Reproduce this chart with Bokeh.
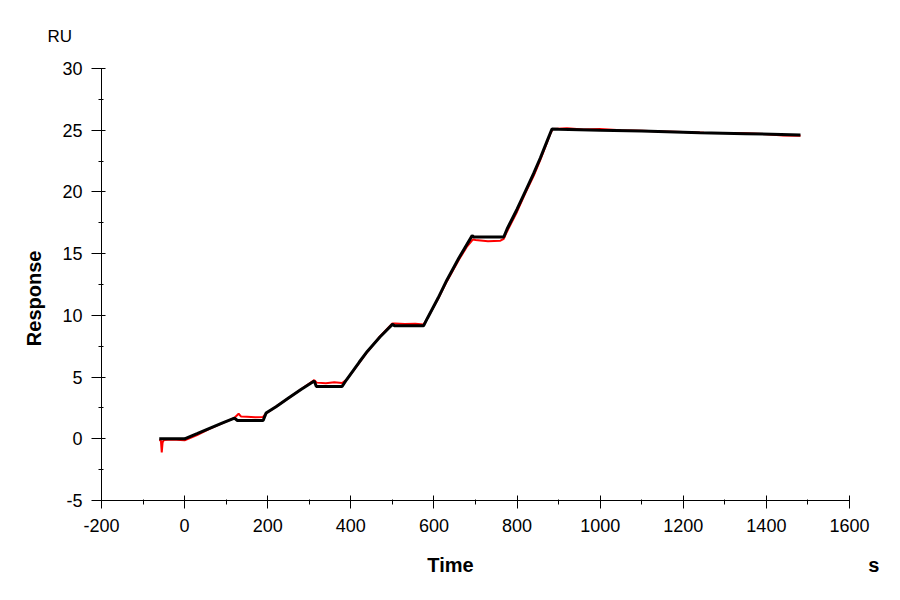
from bokeh.embed import file_html
from bokeh.models import CustomJSTickFormatter, Range1d, SingleIntervalTicker, Title
from bokeh.plotting import figure
from bokeh.resources import INLINE

# measured response (red) and fitted curve (black), time in s, response in RU
measured_time = [-61, -57, -55, -53, -50, -30, 0, 30, 60, 90, 120, 130, 136, 150, 170, 188,
                 196, 220, 250, 280, 312, 318, 340, 360, 379, 390, 420, 440, 470, 500, 506,
                 530, 555, 575, 584, 610, 631, 660, 680, 694, 700, 730, 760, 768, 776, 800,
                 820, 840, 856, 872, 880, 886, 920, 960, 1000, 1050, 1100, 1150, 1200, 1250,
                 1300, 1350, 1400, 1440, 1482]
measured_response = [-0.1, -0.15, -1.1, -0.3, -0.1, -0.05, -0.12, 0.3, 0.8, 1.25, 1.7, 2.03,
                     1.8, 1.78, 1.74, 1.76, 2.05, 2.6, 3.3, 4.0, 4.75, 4.55, 4.5, 4.58, 4.52,
                     4.8, 6.15, 7.05, 8.3, 9.35, 9.35, 9.3, 9.32, 9.25, 9.75, 11.35, 12.75,
                     14.5, 15.6, 16.15, 16.1, 16.0, 16.05, 16.2, 16.8, 18.4, 19.9, 21.3, 22.6,
                     24.0, 24.7, 25.1, 25.15, 25.05, 25.1, 25.0, 24.95, 24.9, 24.85, 24.8,
                     24.78, 24.75, 24.68, 24.58, 24.55]

fit_time = [-61, 0, 30, 60, 90, 120, 127, 189, 196, 220, 250, 280, 312, 317, 379, 390, 420,
            440, 470, 500, 506, 575, 584, 610, 631, 660, 692, 696, 768, 776, 800, 820, 840,
            856, 872, 884, 900, 1000, 1100, 1240, 1350, 1482]
fit_response = [0.0, 0.0, 0.42, 0.85, 1.27, 1.68, 1.48, 1.48, 2.08, 2.6, 3.3, 4.0, 4.68, 4.24,
                4.24, 4.8, 6.2, 7.1, 8.25, 9.27, 9.15, 9.15, 9.75, 11.4, 12.85, 14.65, 16.46,
                16.35, 16.35, 17.0, 18.6, 20.05, 21.5, 22.75, 24.1, 25.1, 25.08, 25.0, 24.93,
                24.8, 24.72, 24.62]

FONT = "Liberation Sans"
NBSP = "\u00a0"

p = figure(
    width=884,
    height=584,
    x_range=Range1d(-200, 1600),
    y_range=Range1d(-5, 30),
    output_backend="svg",
    toolbar_location=None,
    min_border_left=101,
    min_border_right=35,
    min_border_top=68,
    min_border_bottom=84,
)
p.outline_line_color = None
p.grid.visible = False

p.xaxis.ticker = SingleIntervalTicker(interval=200, num_minor_ticks=2)
p.yaxis.ticker = SingleIntervalTicker(interval=5, num_minor_ticks=2)

# plain hyphen for negative numbers, like the original
plain_minus = CustomJSTickFormatter(code="return tick.toString();")

for ax in (p.xaxis, p.yaxis):
    ax.formatter = plain_minus
    ax.axis_line_color = "black"
    ax.major_tick_line_color = "black"
    ax.minor_tick_line_color = "black"
    ax.major_label_text_font = FONT
    ax.major_label_text_font_size = "18px"
    ax.major_label_text_color = "black"
    ax.axis_label_text_font = FONT
    ax.axis_label_text_font_size = "20px"
    ax.axis_label_text_font_style = "bold"
    ax.axis_label_text_color = "black"

p.yaxis.major_tick_out = 10
p.yaxis.major_tick_in = 4
p.yaxis.minor_tick_out = 3
p.yaxis.minor_tick_in = 2
p.yaxis.major_label_standoff = 9
p.yaxis.axis_label = "Response" + NBSP * 5
p.yaxis.axis_label_standoff = 14

p.xaxis.major_tick_out = 8
p.xaxis.major_tick_in = 5
p.xaxis.minor_tick_out = 4
p.xaxis.minor_tick_in = 1
p.xaxis.major_label_standoff = 10
# "Time" sits left of centre and the unit "s" sits past the right end of the axis
p.xaxis.axis_label = NBSP * 64 + "Time" + NBSP * 71 + "s"
p.xaxis.axis_label_standoff = 19

p.line(measured_time, measured_response, line_color="red", line_width=2)
p.line(fit_time, fit_response, line_color="black", line_width=3)

p.add_layout(Title(text="RU", align="left", offset=-54, standoff=46, text_font=FONT,
                   text_font_size="17px", text_font_style="normal", text_color="black"),
             "above")

open("out.html", "w").write(file_html(p, INLINE))
